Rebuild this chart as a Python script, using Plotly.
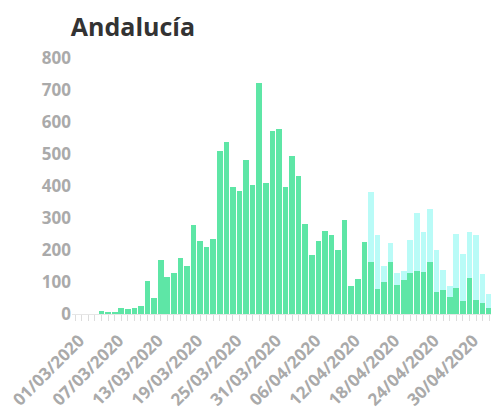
import pandas as pd
import plotly.graph_objects as go

# daily cases, 01/03/2020 .. 04/05/2020
dates = [d.strftime("%d/%m/%Y") for d in pd.date_range("2020-03-01", "2020-05-04")]

confirmed = [
    0, 0, 0, 0, 10, 7, 7, 19, 16, 19,
    24, 104, 50, 169, 117, 129, 176, 149, 279, 228,
    209, 235, 509, 537, 396, 385, 481, 404, 723, 410,
    571, 578, 396, 493, 432, 280, 184, 229, 260, 248,
    200, 294, 86, 109, 224, 164, 78, 101, 164, 92,
    106, 129, 133, 130, 164, 68, 76, 52, 82, 40,
    113, 44, 34, 19, 17,
]
# extra cases on top (from 15/04)
extra = [0] * 45 + [
    216, 169, 50, 57, 37, 27, 103, 183, 127, 165,
    132, 61, 37, 169, 146, 144, 204, 90, 44, 29,
]

tick_labels = [
    "01/03/2020", "07/03/2020", "13/03/2020", "19/03/2020", "25/03/2020",
    "31/03/2020", "06/04/2020", "12/04/2020", "18/04/2020", "24/04/2020",
    "30/04/2020",
]

GREEN = "#5ee6a6"
CYAN = "#b9fbf7"
LABEL = "#aaaaaa"

fig = go.Figure()
fig.add_trace(go.Bar(x=dates, y=confirmed, marker_color=GREEN,
                     marker_line_width=0, name="confirmados"))
fig.add_trace(go.Bar(x=dates, y=extra, marker_color=CYAN,
                     marker_line_width=0, name="otros"))

# the page body adds an 8px offset, so margins are shifted to compensate
fig.update_layout(
    width=499, height=410,
    barmode="stack", bargap=0.14,
    showlegend=False,
    plot_bgcolor="white", paper_bgcolor="white",
    margin=dict(l=64, r=8, t=50, b=104),
    title=dict(text="Andalucía", x=0.126, xref="container", xanchor="left",
               y=0.952, yref="container", yanchor="middle", automargin=False,
               font=dict(family="Open Sans", size=25, color="#333333", weight="bold")),
)
fig.update_xaxes(
    type="category",
    tickmode="array",
    tickvals=dates,
    ticktext=[d if d in tick_labels else "" for d in dates],
    tickangle=-45,
    ticks="outside", ticklen=6, tickcolor="#dddddd", tickwidth=1,
    ticklabelstandoff=3, ticklabelshift=4,
    showline=True, linecolor="#e6e6e6",
    showgrid=False, automargin=False,
    tickfont=dict(family="Open Sans", size=17, color=LABEL, weight="bold"),
)
fig.update_yaxes(
    range=[0, 800],
    tickvals=[0, 100, 200, 300, 400, 500, 600, 700, 800],
    showgrid=False, zeroline=False, automargin=False,
    tickfont=dict(family="Open Sans", size=17, color=LABEL, weight="bold"),
)

fig.write_html("out.html")
